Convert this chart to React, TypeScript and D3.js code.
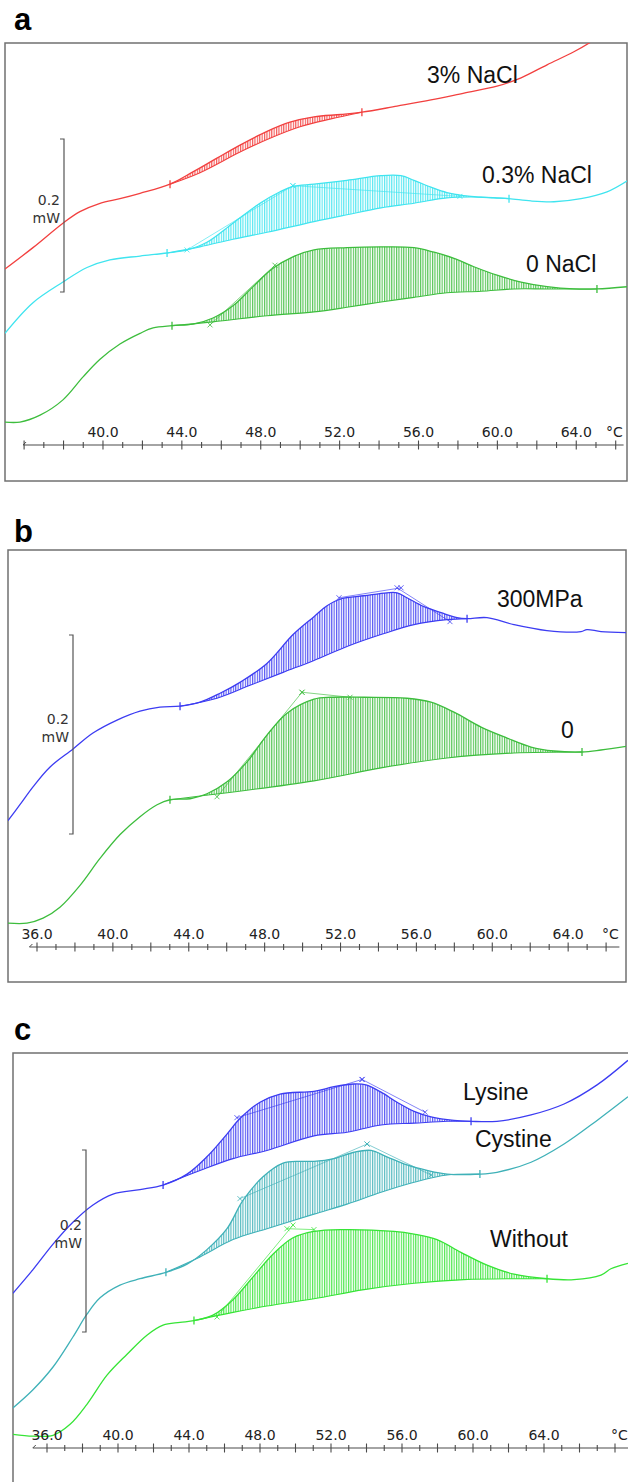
import React from 'react';
import * as d3 from 'd3';

type Pt = [number, number]; // [temperature °C, heat flow mW]

// ---- panel a : NaCl ----
const nacl3Curve: Pt[] = [
  [35.03, 0.230], [36.45, 0.258], [37.97, 0.290], [38.83, 0.305], [39.85, 0.316],
  [40.86, 0.322], [41.88, 0.329], [43.40, 0.341], [44.56, 0.357], [45.78, 0.375],
  [46.95, 0.392], [48.32, 0.410], [49.48, 0.422], [50.70, 0.429], [52.07, 0.432],
  [53.13, 0.435], [54.91, 0.443], [56.63, 0.451], [58.31, 0.460], [59.98, 0.469],
  [61.20, 0.480], [62.52, 0.497], [63.88, 0.514], [64.75, 0.527], [65.46, 0.540]
];
const nacl3Base: Pt[] = [
  [43.40, 0.341], [44.92, 0.356], [46.95, 0.383], [48.47, 0.401], [49.99, 0.416],
  [51.51, 0.426], [53.13, 0.435]
];
const nacl03Curve: Pt[] = [
  [35.03, 0.146], [36.45, 0.186], [37.97, 0.213], [39.19, 0.232], [40.35, 0.242],
  [41.88, 0.247], [43.25, 0.251], [44.26, 0.255], [45.27, 0.265], [46.59, 0.290],
  [47.96, 0.316], [48.98, 0.331], [49.63, 0.338], [50.70, 0.341], [52.37, 0.346],
  [54.10, 0.352], [55.11, 0.352], [55.77, 0.346], [56.63, 0.337], [57.44, 0.330],
  [58.66, 0.325], [59.83, 0.323], [60.59, 0.322], [61.70, 0.319], [62.87, 0.318],
  [64.24, 0.322], [65.56, 0.331], [66.62, 0.346]
];
const nacl03Base: Pt[] = [
  [43.25, 0.251], [44.92, 0.259], [46.59, 0.269], [48.32, 0.278], [50.70, 0.292],
  [52.37, 0.301], [54.10, 0.310], [55.77, 0.316], [57.44, 0.323], [59.17, 0.324],
  [60.59, 0.322]
];
const nacl03Tangents: Pt[][] = [
  [[44.26, 0.255], [49.63, 0.339]],
  [[49.63, 0.339], [58.10, 0.325]]
];
const nacl0Curve: Pt[] = [
  [35.03, 0.030], [35.79, 0.030], [36.81, 0.039], [37.97, 0.059], [38.99, 0.089],
  [39.85, 0.112], [40.86, 0.132], [41.88, 0.146], [42.54, 0.153], [43.50, 0.156],
  [44.56, 0.158], [45.58, 0.166], [46.59, 0.182], [47.61, 0.207], [48.62, 0.231],
  [49.63, 0.246], [50.70, 0.255], [52.37, 0.258], [54.10, 0.259], [55.77, 0.258],
  [56.79, 0.252], [57.80, 0.244], [58.81, 0.233], [59.98, 0.222], [61.20, 0.213],
  [62.52, 0.207], [63.88, 0.204], [65.05, 0.204], [66.62, 0.207]
];
const nacl0Base: Pt[] = [
  [43.50, 0.156], [45.58, 0.161], [48.32, 0.169], [50.70, 0.174], [52.37, 0.180],
  [54.10, 0.187], [55.77, 0.193], [57.44, 0.199], [59.17, 0.201], [60.84, 0.204],
  [62.52, 0.204], [65.05, 0.204]
];
const nacl0Tangents: Pt[][] = [[[45.43, 0.157], [48.72, 0.235]]];

// ---- panel b : pressure ----
const mpa300Curve: Pt[] = [
  [34.47, 0.127], [35.10, 0.143], [35.79, 0.161], [36.69, 0.181], [37.90, 0.199],
  [38.95, 0.215], [40.22, 0.228], [41.43, 0.237], [42.48, 0.241], [43.54, 0.242],
  [44.59, 0.246], [45.65, 0.255], [46.70, 0.266], [48.12, 0.285], [49.50, 0.314],
  [50.60, 0.332], [51.29, 0.343], [52.03, 0.350], [53.24, 0.353], [54.45, 0.356],
  [54.98, 0.356], [55.50, 0.351], [56.40, 0.342], [57.30, 0.336], [58.14, 0.331],
  [58.67, 0.330], [59.72, 0.331], [61.14, 0.324], [62.88, 0.318], [64.68, 0.317],
  [64.99, 0.319], [65.73, 0.317], [67.15, 0.316]
];
const mpa300Base: Pt[] = [
  [43.54, 0.242], [45.49, 0.250], [47.23, 0.263], [48.97, 0.276], [50.60, 0.288],
  [52.34, 0.302], [54.13, 0.314], [55.87, 0.324], [57.61, 0.329], [58.67, 0.330]
];
const mpa300Tangents: Pt[][] = [
  [[51.92, 0.351], [55.19, 0.361]],
  [[54.98, 0.361], [57.77, 0.327]]
];
const mpa0Curve: Pt[] = [
  [34.47, 0.024], [35.47, 0.024], [36.32, 0.029], [37.21, 0.040], [38.27, 0.062],
  [39.32, 0.089], [40.38, 0.113], [41.43, 0.131], [42.33, 0.143], [43.01, 0.148],
  [44.07, 0.149], [44.96, 0.154], [46.02, 0.166], [47.07, 0.186], [48.12, 0.213],
  [49.18, 0.235], [50.60, 0.249], [51.50, 0.251], [53.24, 0.251], [55.50, 0.250],
  [56.77, 0.246], [57.98, 0.236], [59.41, 0.221], [60.78, 0.210], [62.04, 0.201],
  [63.25, 0.197], [64.73, 0.196], [65.73, 0.198], [67.15, 0.202]
];
const mpa0Base: Pt[] = [
  [43.01, 0.148], [50.60, 0.167], [54.13, 0.180], [57.61, 0.190], [61.14, 0.195],
  [64.73, 0.196]
];
const mpa0Tangents: Pt[][] = [
  [[45.49, 0.151], [49.97, 0.256]],
  [[49.97, 0.256], [52.50, 0.251]]
];

// ---- panel c : amino acids ----
const lysineCurve: Pt[] = [
  [34.08, 0.170], [35.21, 0.196], [36.34, 0.224], [37.46, 0.248], [38.59, 0.267],
  [39.72, 0.279], [41.24, 0.284], [42.54, 0.289], [43.89, 0.301], [45.01, 0.320],
  [46.14, 0.345], [46.87, 0.362], [48.00, 0.380], [49.13, 0.389], [51.04, 0.392],
  [52.17, 0.397], [53.30, 0.400], [53.97, 0.399], [54.82, 0.391], [55.72, 0.380],
  [56.68, 0.370], [57.63, 0.364], [58.93, 0.360], [59.89, 0.359], [61.35, 0.359],
  [63.27, 0.366], [65.13, 0.378], [66.99, 0.399], [68.73, 0.426]
];
const lysineBase: Pt[] = [
  [42.54, 0.289], [44.62, 0.305], [46.48, 0.318], [48.39, 0.327], [51.04, 0.343],
  [52.90, 0.347], [54.82, 0.355], [56.68, 0.357], [58.54, 0.359], [59.89, 0.359]
];
const lysineTangents: Pt[][] = [
  [[46.70, 0.363], [53.75, 0.405]],
  [[53.75, 0.405], [57.30, 0.369]]
];
const cystineCurve: Pt[] = [
  [34.08, 0.044], [35.21, 0.064], [36.34, 0.089], [37.46, 0.122], [38.25, 0.147],
  [38.99, 0.165], [40.11, 0.179], [41.24, 0.186], [42.70, 0.193], [43.89, 0.202],
  [45.01, 0.218], [46.14, 0.241], [47.04, 0.272], [48.17, 0.298], [49.30, 0.313],
  [50.25, 0.315], [51.04, 0.315], [52.17, 0.318], [53.30, 0.325], [54.25, 0.327],
  [55.15, 0.320], [56.28, 0.311], [57.41, 0.305], [58.54, 0.301], [60.39, 0.301],
  [61.35, 0.303], [63.27, 0.314], [65.13, 0.334], [66.99, 0.360], [68.73, 0.386]
];
const cystineBase: Pt[] = [
  [42.70, 0.193], [44.62, 0.210], [46.48, 0.229], [48.39, 0.241], [51.04, 0.257],
  [52.90, 0.268], [54.82, 0.281], [56.68, 0.292], [58.54, 0.300], [60.39, 0.301]
];
const cystineTangents: Pt[][] = [
  [[46.87, 0.274], [54.03, 0.334]],
  [[54.03, 0.334], [57.63, 0.300]]
];
const withoutCurve: Pt[] = [
  [34.08, 0.015], [35.21, 0.013], [36.34, 0.014], [37.30, 0.026], [38.25, 0.048],
  [39.38, 0.080], [40.51, 0.103], [41.63, 0.124], [42.54, 0.135], [43.49, 0.138],
  [44.28, 0.140], [45.35, 0.146], [46.48, 0.163], [47.61, 0.188], [48.73, 0.213],
  [49.86, 0.231], [51.04, 0.238], [52.56, 0.240], [55.55, 0.238], [56.68, 0.235],
  [57.97, 0.229], [59.32, 0.215], [60.79, 0.201], [62.31, 0.191], [64.17, 0.186],
  [65.69, 0.185], [67.21, 0.190], [67.77, 0.197], [68.73, 0.203]
];
const withoutBase: Pt[] = [
  [44.28, 0.140], [46.48, 0.149], [48.39, 0.156], [51.04, 0.164], [53.86, 0.174],
  [56.68, 0.181], [59.49, 0.185], [62.31, 0.186], [64.17, 0.186]
];
const withoutTangents: Pt[][] = [
  [[45.58, 0.144], [49.86, 0.245]],
  [[49.52, 0.241], [51.04, 0.240]]
];

const tickLabelsA = [40, 44, 48, 52, 56, 60, 64];
const tickLabelsBC = [36, 40, 44, 48, 52, 56, 60, 64];

const LABEL_FONT = "'Liberation Sans', Arial, sans-serif";
const AXIS_FONT = "'DejaVu Sans', Verdana, sans-serif";

interface Series {
  key: string;
  name: string;
  color: string;
  curve: Pt[];
  base: Pt[];
  tangents: Pt[][];
  label: [number, number];
}

interface PanelCfg {
  id: string;
  letter: string;
  letterY: number;
  frame: { x: number; y: number; w: number; h: number };
  xRange: [number, number];
  axisY: number;
  axisSpan: [number, number];
  tickLabels: number[];
  unitX: number;
  pxPerMw: number;
  bar: { x: number; top: number };
  series: Series[];
}

const panels: PanelCfg[] = [
  {
    id: 'a', letter: 'a', letterY: 30,
    frame: { x: 5, y: 43, w: 622, h: 438 },
    xRange: [24.1, 615.7], axisY: 445, axisSpan: [35.95, 66.4],
    tickLabels: tickLabelsA, unitX: 606, pxPerMw: 765,
    bar: { x: 64, top: 139 },
    series: [
      { key: 'r', name: '3% NaCl', color: '#f2403f', curve: nacl3Curve, base: nacl3Base, tangents: [], label: [427, 83] },
      { key: 'cy', name: '0.3% NaCl', color: '#3fe4ef', curve: nacl03Curve, base: nacl03Base, tangents: nacl03Tangents, label: [482, 183] },
      { key: 'g', name: '0 NaCl', color: '#3dbd3d', curve: nacl0Curve, base: nacl0Base, tangents: nacl0Tangents, label: [526, 272] }
    ]
  },
  {
    id: 'b', letter: 'b', letterY: 542,
    frame: { x: 8, y: 550, w: 618, h: 432 },
    xRange: [37, 606.1], axisY: 947, axisSpan: [35.6, 66.7],
    tickLabels: tickLabelsBC, unitX: 602, pxPerMw: 995,
    bar: { x: 73, top: 635 },
    series: [
      { key: 'bl', name: '300MPa', color: '#3c3cf2', curve: mpa300Curve, base: mpa300Base, tangents: mpa300Tangents, label: [497, 607] },
      { key: 'g', name: '0', color: '#3dbd3d', curve: mpa0Curve, base: mpa0Base, tangents: mpa0Tangents, label: [561, 738] }
    ]
  },
  {
    id: 'c', letter: 'c', letterY: 1040,
    frame: { x: 13, y: 1053, w: 640, h: 500 },
    xRange: [47, 579.5], axisY: 1448, axisSpan: [35.2, 69],
    tickLabels: tickLabelsBC, unitX: 611, pxPerMw: 910,
    bar: { x: 86, top: 1150 },
    series: [
      { key: 'bl', name: 'Lysine', color: '#3c3cf2', curve: lysineCurve, base: lysineBase, tangents: lysineTangents, label: [463, 1100] },
      { key: 'te', name: 'Cystine', color: '#3fb1b8', curve: cystineCurve, base: cystineBase, tangents: cystineTangents, label: [475, 1147] },
      { key: 'lg', name: 'Without', color: '#36e436', curve: withoutCurve, base: withoutBase, tangents: withoutTangents, label: [490, 1247] }
    ]
  }
];

const smooth = d3.curveCatmullRom.alpha(0.5);

const Panel = ({ p }: { p: PanelCfg }) => {
  const x = d3.scaleLinear().domain([36, 66]).range(p.xRange);
  const y = d3.scaleLinear().domain([0, 1]).range([p.axisY, p.axisY - p.pxPerMw]);
  const { frame } = p;
  const farBottom = frame.y + frame.h + 100;
  const farTop = frame.y - 100;

  const line = d3.line<Pt>().x(d => x(d[0])).y(d => y(d[1])).curve(smooth);
  const straight = d3.line<Pt>().x(d => x(d[0])).y(d => y(d[1]));
  const belowCurve = d3.area<Pt>().x(d => x(d[0])).y0(farBottom).y1(d => y(d[1])).curve(smooth);
  const aboveBase = d3.area<Pt>().x(d => x(d[0])).y0(d => y(d[1])).y1(farTop).curve(smooth);

  const ticks = d3.range(Math.ceil(p.axisSpan[0]), Math.floor(p.axisSpan[1]) + 1);
  const barLen = y(0) - y(0.2);
  const barMid = p.bar.top + barLen / 2;

  return (
    <g>
      <defs>
        <clipPath id={`frame-${p.id}`}>
          <rect x={frame.x} y={frame.y} width={frame.w} height={frame.h} />
        </clipPath>
        {p.series.map(s => (
          <React.Fragment key={s.key}>
            <clipPath id={`under-${p.id}-${s.key}`}>
              <path d={belowCurve(s.curve) || ''} />
            </clipPath>
            <pattern id={`hatch-${p.id}-${s.key}`} width={2.4} height={10} patternUnits="userSpaceOnUse">
              <line x1={0.6} x2={0.6} y1={0} y2={10} stroke={s.color} strokeWidth={1} />
            </pattern>
          </React.Fragment>
        ))}
      </defs>

      <text x={14} y={p.letterY} fontFamily={LABEL_FONT} fontWeight="bold" fontSize={31} fill="#000">{p.letter}</text>
      <rect x={frame.x} y={frame.y} width={frame.w} height={frame.h} fill="none" stroke="#707070" strokeWidth={1.5} />

      <g clipPath={`url(#frame-${p.id})`}>
        {p.series.map(s => {
          const first = s.base[0];
          const last = s.base[s.base.length - 1];
          return (
            <g key={s.key}>
              <g clipPath={`url(#under-${p.id}-${s.key})`}>
                <path d={aboveBase(s.base) || ''} fill={`url(#hatch-${p.id}-${s.key})`} />
              </g>
              <path d={line(s.base) || ''} fill="none" stroke={s.color} strokeWidth={1.1} />
              {s.tangents.map((t, i) => (
                <g key={i}>
                  <path d={straight(t) || ''} fill="none" stroke={s.color} strokeWidth={0.8} opacity={0.8} />
                  {t.map((q, j) => (
                    <path key={j} d={`M${x(q[0]) - 2.5},${y(q[1]) - 2.5}l5,5M${x(q[0]) - 2.5},${y(q[1]) + 2.5}l5,-5`} stroke={s.color} strokeWidth={0.8} />
                  ))}
                </g>
              ))}
              <path d={line(s.curve) || ''} fill="none" stroke={s.color} strokeWidth={1.3} />
              {[first, last].map((q, j) => (
                <line key={j} x1={x(q[0])} x2={x(q[0])} y1={y(q[1]) - 4} y2={y(q[1]) + 4} stroke={s.color} strokeWidth={1.3} />
              ))}
            </g>
          );
        })}

        {/* temperature ruler */}
        <line x1={x(p.axisSpan[0])} x2={x(p.axisSpan[1])} y1={p.axisY} y2={p.axisY} stroke="#4a4a4a" strokeWidth={1.2} />
        <path d={`M${x(p.axisSpan[0])},${p.axisY}l3,-3`} stroke="#4a4a4a" strokeWidth={1} fill="none" />
        {ticks.map(t => {
          const h = t % 2 === 0 ? 4.5 : 3;
          return <line key={t} x1={x(t)} x2={x(t)} y1={p.axisY - h} y2={p.axisY + h} stroke="#4a4a4a" strokeWidth={1.1} />;
        })}
        {p.tickLabels.map(t => (
          <text key={t} x={x(t)} y={p.axisY - 8} textAnchor="middle" fontFamily={AXIS_FONT} fontSize={14} fill="#222">
            {d3.format('.1f')(t)}
          </text>
        ))}
        <text x={p.unitX} y={p.axisY - 8} fontFamily={AXIS_FONT} fontSize={14} fill="#222">°C</text>
      </g>

      {/* 0.2 mW scale bar */}
      <path
        d={`M${p.bar.x - 4},${p.bar.top}H${p.bar.x}V${p.bar.top + barLen}H${p.bar.x - 4}`}
        fill="none" stroke="#555" strokeWidth={1.2}
      />
      <text x={p.bar.x - 4} y={barMid - 11} textAnchor="end" fontFamily={AXIS_FONT} fontSize={14} fill="#333">0.2</text>
      <text x={p.bar.x - 4} y={barMid + 7} textAnchor="end" fontFamily={AXIS_FONT} fontSize={14} fill="#333">mW</text>

      {p.series.map(s => (
        <text key={s.key} x={s.label[0]} y={s.label[1]} fontFamily={LABEL_FONT} fontSize={23} fill="#111">{s.name}</text>
      ))}
    </g>
  );
};

export default function App() {
  return (
    <svg width={628} height={1482} style={{ position: 'absolute', left: 0, top: 0, background: '#fff' }}>
      <rect width={628} height={1482} fill="#fff" />
      {panels.map(p => <Panel key={p.id} p={p} />)}
    </svg>
  );
}
